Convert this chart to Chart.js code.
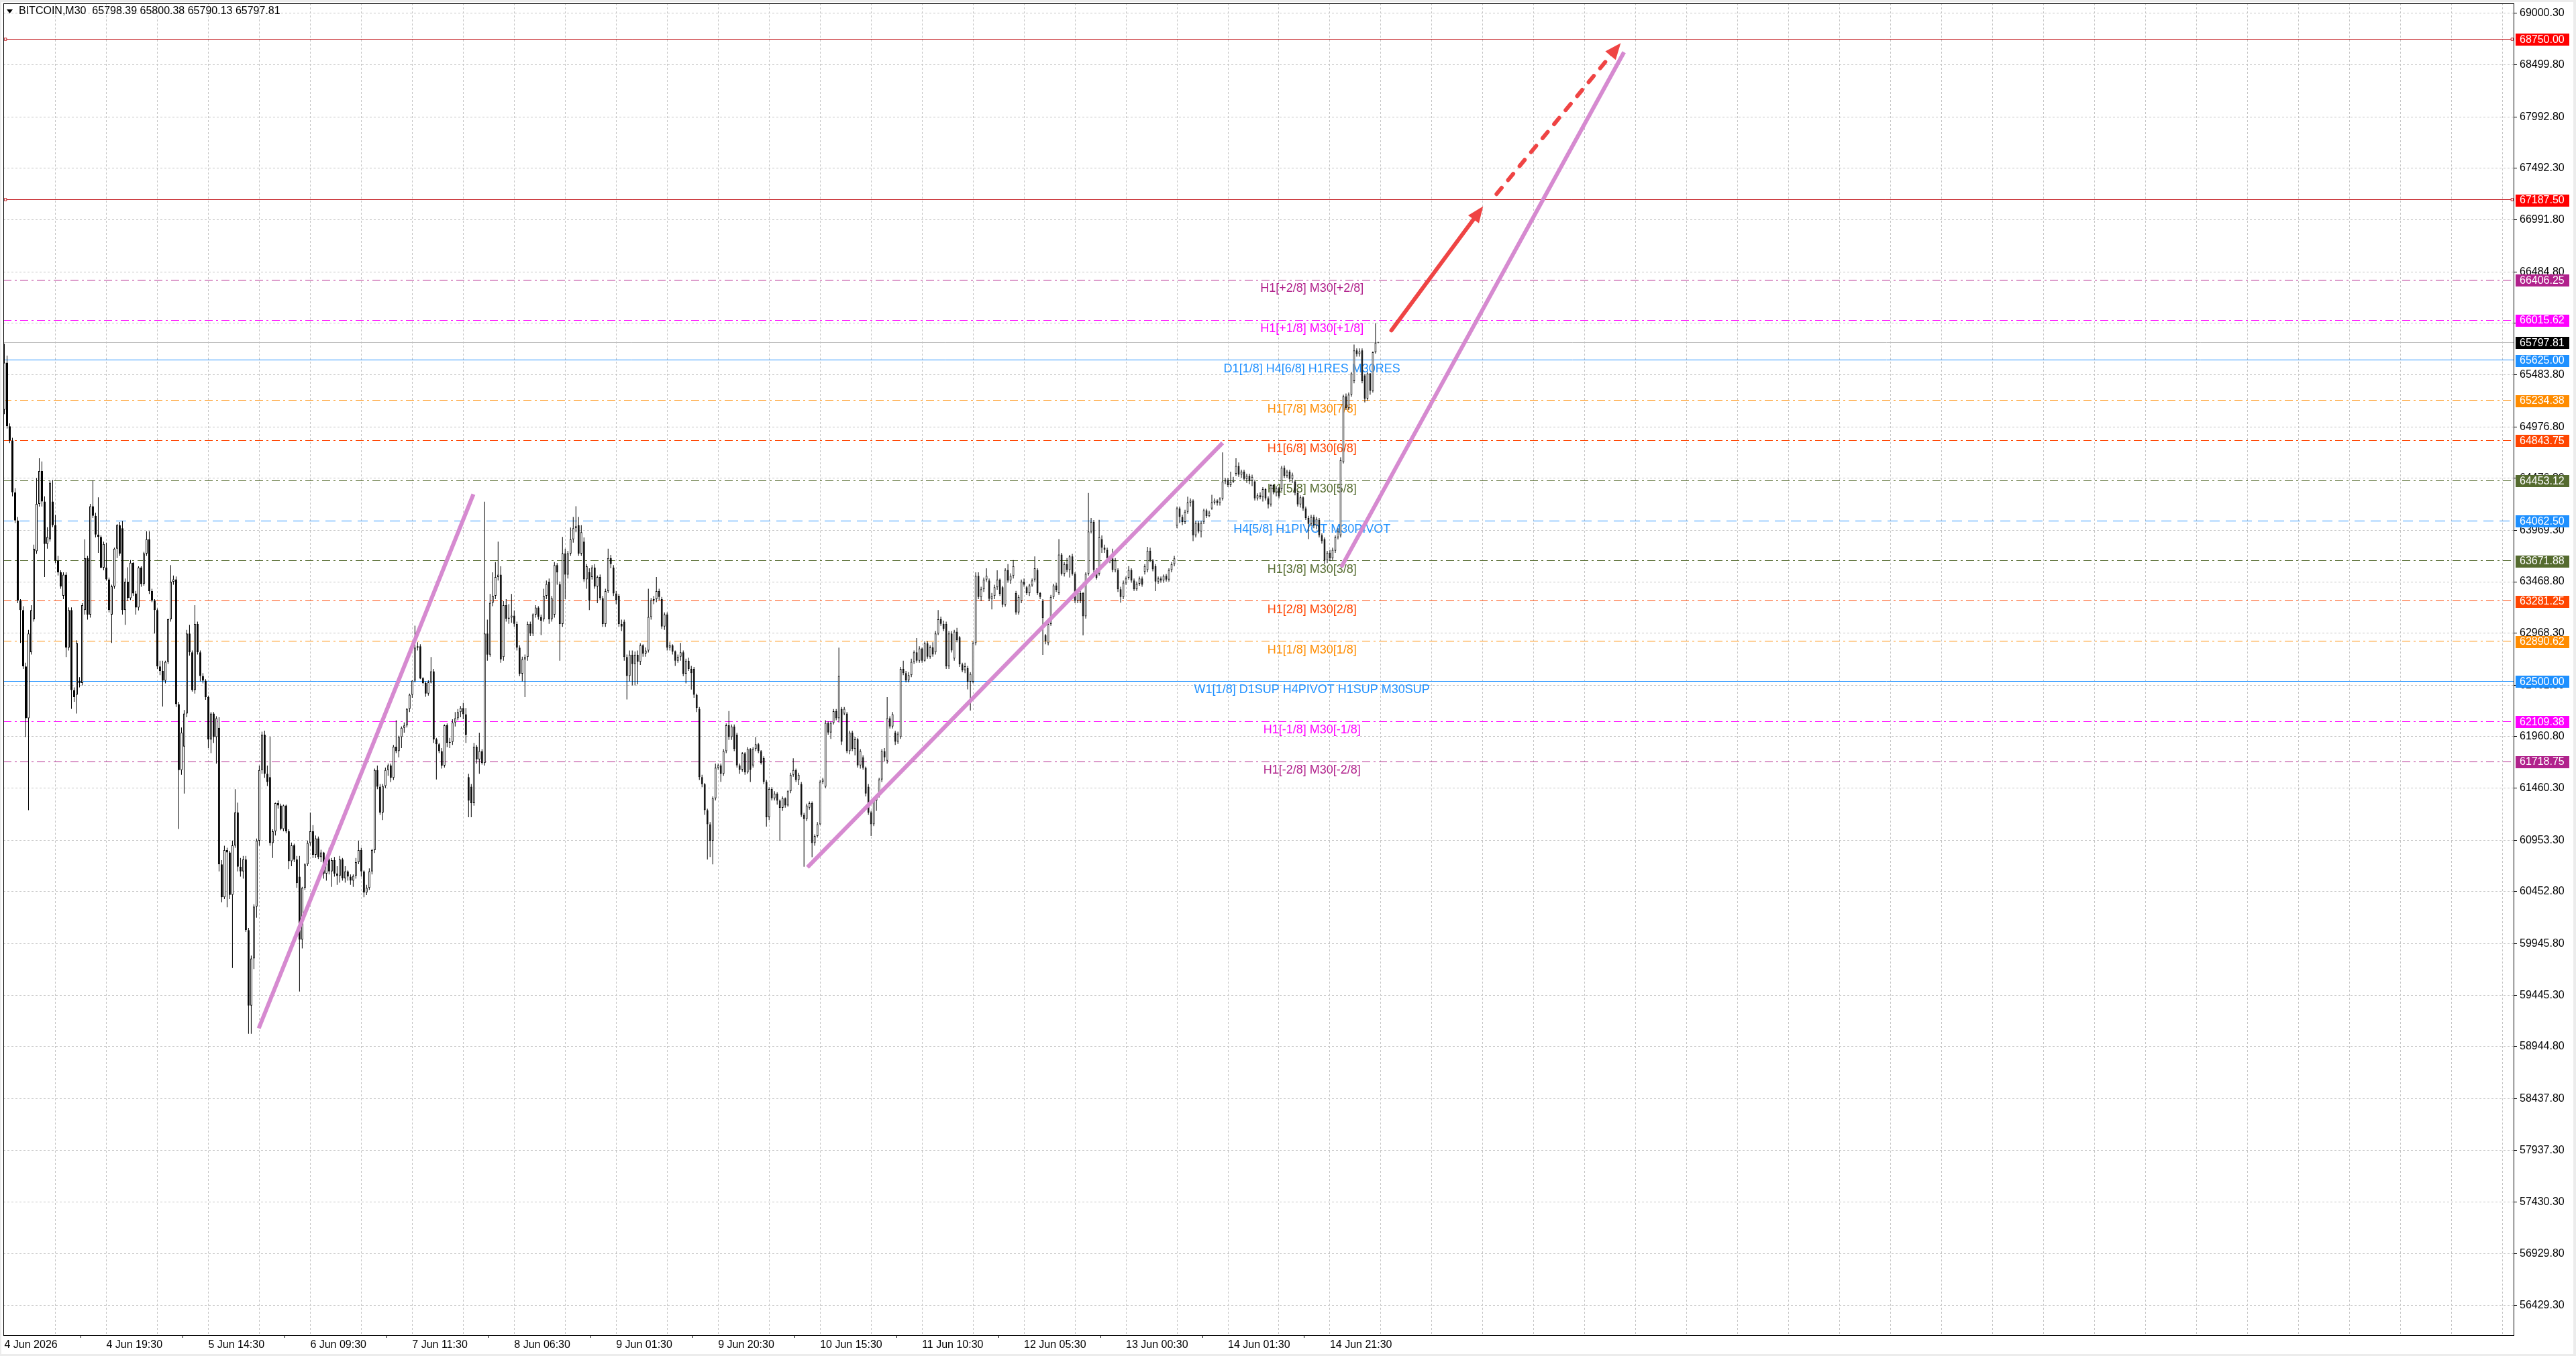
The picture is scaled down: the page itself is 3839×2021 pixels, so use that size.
<!DOCTYPE html>
<html><head><meta charset="utf-8">
<script src="https://cdn.jsdelivr.net/npm/chart.js@4.4.1/dist/chart.umd.min.js"></script>
<style>html,body{margin:0;padding:0;background:#fff;overflow:hidden}canvas{display:block}</style>
</head><body>
<canvas id="c" width="3839" height="2021"></canvas>
<script>
// ---------------- DATA ----------------
const symbolName = 'BITCOIN,M30';
const open = [
65142,65601,64982,64844,64340,64065,63286,63194,62644,62140,
62782,63103,63767,64226,64546,64249,63836,63882,64249,64019,
63676,63561,63332,63538,62828,63194,62415,62369,62506,62483,
63194,63699,63149,64203,64111,63928,63905,63607,63607,63492,
63149,63424,63790,64019,63990,63194,63469,63309,63653,63355,
63217,63607,63446,63744,63882,63378,63286,63194,62644,62600,
62506,62689,63103,63469,63492,62277,61636,61865,62186,62965,
62782,62415,63057,62782,62552,62506,62346,61934,62186,61957,
62048,60719,60398,60857,60834,60421,60903,61223,60696,60650,
60765,60078,59344,59802,60307,60948,61636,61980,61600,61567,
60925,61040,61315,61292,61063,61292,61040,60750,60903,60765,
60600,59986,60490,60719,60925,61040,60811,60971,60788,60834,
60628,60765,60650,60760,60628,60605,60765,60582,60650,60600,
60560,60605,60740,60857,60650,60444,60490,60650,60857,61636,
61475,61223,61480,61636,61682,61560,61865,61820,61957,62048,
62070,62231,62369,62506,62828,62840,62529,62483,62380,62490,
62598,61934,61888,61820,61680,62071,61900,61910,62100,62140,
62200,62240,62180,61567,61475,61315,61865,61740,61820,61705,
62965,62759,63263,63332,63515,63538,62736,63240,63110,63120,
63140,63057,62828,62575,62713,62736,63057,62965,63149,63217,
63126,63103,63332,63469,63103,63150,63630,63446,63057,63744,
63538,63744,63882,63990,64019,63744,63859,63492,63561,63515,
63607,63424,63515,63309,63057,63378,63699,63607,63355,63332,
63057,63080,62736,62552,62759,62667,62759,62690,62851,62770,
62800,63126,63286,63300,63378,63300,63034,63149,62828,62851,
62790,62700,62740,62782,62575,62700,62620,62621,62369,62231,
61567,61498,61246,61109,60948,61361,61659,61681,61600,61820,
62071,61957,62060,61980,61681,61640,61797,61613,61842,61681,
61842,61888,61820,61751,61521,61177,61452,61361,61407,61338,
61269,61361,61292,61430,61590,61636,61540,61498,61200,61160,
61270,61315,60925,60994,61109,61521,61475,62094,62002,62094,
62209,62140,62231,62186,62186,61820,62002,61842,61934,61681,
61760,61659,61475,61223,61109,61338,61384,61544,61820,61728,
62140,62060,62002,61911,61957,62621,62580,62510,62560,62689,
62782,62700,62820,62700,62870,62740,62830,62782,62965,63103,
63060,63057,62644,62965,62721,62983,62927,62665,62608,62627,
62496,62496,62871,63527,63321,63396,63490,63480,63302,63330,
63415,63490,63415,63246,63584,63480,63527,63358,63171,63283,
63471,63415,63358,63433,63490,63584,63358,63283,62946,62871,
63058,63321,63433,63358,63734,63546,63640,63584,63715,63546,
63283,63358,63358,63133,63546,63958,64052,63584,63546,63883,
63800,63780,63696,63696,63584,63584,63396,63321,63460,63508,
63584,63480,63396,63450,63500,63565,63584,63771,63677,63621,
63471,63500,63480,63527,63490,63584,63640,64015,64183,64100,
64050,64150,64240,64258,63921,64040,63958,64052,64165,64108,
64183,64240,64258,64235,64277,64446,64460,64409,64440,64521,
64596,64510,64540,64470,64500,64450,64446,64280,64310,64290,
64370,64280,64221,64409,64340,64380,64371,64577,64500,64540,
64470,64446,64333,64221,64290,64183,64090,64033,64100,64015,
64071,63921,63883,63677,63752,63696,63771,63902,63921,64633,
65271,65159,65290,65421,65721,65684,65721,65477,65252,65496,
65327,65702,65798.39];
const high = [
65784,65670,65010,64870,64380,64100,63300,63230,62680,63000,
63240,63830,64478,64670,64640,64300,64000,64455,64460,64120,
63720,63580,63560,63560,63220,63220,62440,62900,62540,63260,
63882,63720,64226,64455,64140,64290,63920,63860,63850,63510,
63440,63800,64030,64050,64060,63500,63610,63680,63660,63380,
63620,63620,63760,63960,63960,63400,63300,63210,62700,62700,
62700,63110,63630,63530,63520,62300,62050,62220,63000,63050,
62800,63240,63080,62800,62580,62520,62360,62200,62200,62160,
62150,60760,60900,60880,60850,60950,61450,61320,60780,60800,
60800,60100,59830,60330,60970,61680,62010,62020,61680,61960,
61060,61320,61340,61310,61300,61300,61060,60930,60920,60800,
60800,60500,60730,60950,61223,61100,61000,60990,60860,60840,
60780,60880,60780,60790,60700,60800,60780,60700,60660,60620,
60620,60780,60948,60880,60660,60520,60680,60870,61650,61680,
61500,61500,61660,61700,61700,61880,62120,61970,62060,62100,
62240,62380,62510,63042,62880,62860,62540,62500,62510,62736,
62620,61950,61900,61850,62080,62090,61950,62130,62200,62230,
62260,62290,62240,61600,61500,61900,61880,62000,61840,64248,
63100,63350,63560,63660,63860,63620,63280,63300,63250,63350,
63190,63080,62850,62740,62760,63080,63080,63160,63240,63230,
63150,63400,63480,63500,63330,63660,63650,63470,63905,63790,
63770,63996,64100,64203,64100,64020,63900,63640,63600,63630,
63640,63530,63540,63330,63400,63790,63730,63630,63380,63350,
63100,63100,62760,62800,62800,62790,62800,62870,62860,62830,
63400,63310,63330,63515,63400,63320,63170,63170,62880,62860,
62800,62760,62874,62800,62720,62730,62650,62640,62380,62250,
61590,61510,61260,61130,61380,61700,61700,61700,61840,62090,
62210,62080,62080,62000,61700,61810,61810,61860,61850,61860,
61957,61900,61830,61770,61540,61470,61470,61430,61420,61350,
61380,61370,61440,61610,61750,61650,61610,61520,61220,61310,
61330,61330,61010,61130,61540,61560,62120,62110,62110,62230,
62230,62828,62250,62250,62200,62020,62020,61960,61950,61840,
61780,61670,61500,61240,61360,61400,61560,61840,61850,62346,
62160,62200,62020,62010,62640,62700,62600,62590,62720,62800,
62920,62840,62830,62890,62890,62850,62880,62990,63194,63130,
63090,63080,62990,62990,63000,63020,62940,62680,62680,62650,
62590,62890,63560,63560,63420,63510,63600,63500,63360,63440,
63580,63500,63430,63600,63640,63550,63680,63380,63340,63490,
63500,63430,63450,63500,63715,63600,63370,63300,62960,63080,
63340,63450,63460,63883,63750,63660,63700,63730,63740,63560,
63380,63380,63370,63560,64333,64090,64070,63600,64071,63920,
63830,63800,63720,63790,63700,63600,63420,63480,63520,63621,
63600,63500,63470,63520,63520,63640,63808,63800,63690,63640,
63520,63520,63540,63545,63600,63660,63720,64200,64200,64120,
64170,64296,64280,64270,64060,64060,64060,64180,64180,64160,
64315,64280,64270,64290,64727,64480,64480,64540,64490,64671,
64630,64560,64560,64520,64520,64510,64460,64330,64340,64390,
64380,64300,64420,64420,64400,64390,64596,64600,64560,64560,
64530,64460,64350,64310,64300,64200,64110,64120,64120,64100,
64090,63940,63900,63770,63780,63800,63920,63990,64680,65290,
65300,65310,65510,65777,65740,65740,65740,65490,65510,65500,
65710,65985,65800.38];
const low = [
65100,64960,64820,64300,64040,63260,62874,62620,61957,61246,
62760,63080,63740,64200,64200,63515,63790,63860,64000,63650,
63530,63400,63300,62736,62800,62231,62300,62186,62440,62460,
63150,63100,63120,64090,63900,63750,63600,63580,63480,63170,
62874,63400,63700,63720,63150,63050,63280,63290,63330,63150,
63190,63420,63430,63720,63350,63270,62965,62620,62560,62254,
62480,62670,63080,63440,62250,61063,61590,61407,62150,62750,
62400,62380,62760,62500,62480,62320,61850,61800,61900,61700,
60650,60350,60380,60300,60380,59710,60880,60650,60600,60580,
60060,59069,59069,59700,60200,60900,61600,61560,61480,60900,
60780,61000,61260,61050,61040,61020,60673,60700,60740,60490,
59481,59900,60470,60700,60900,60780,60780,60770,60740,60580,
60560,60620,60500,60600,60520,60540,60560,60540,60560,60520,
60500,60580,60720,60600,60398,60420,60470,60620,60830,61450,
61200,61150,61460,61580,61520,61540,61800,61760,61850,62000,
62050,62200,62340,62490,62800,62520,62470,62350,62360,62480,
61900,61544,61800,61650,61660,61860,61850,61880,62060,62120,
62150,62130,61900,61177,61177,61290,61700,61600,61690,61680,
62700,62740,63230,63300,63480,62680,62700,63080,63060,63070,
63030,62800,62550,62500,62346,62700,62940,62940,63120,63100,
62950,63080,63300,63060,63080,63120,63440,62700,63030,63300,
63500,63720,63850,63950,63720,63720,63470,63400,63194,63490,
63400,63260,63290,63030,63030,63360,63600,63330,63250,63030,
62990,62700,62323,62500,62460,62460,62470,62660,62740,62740,
62780,63100,63250,63270,63290,63010,63000,62800,62800,62760,
62650,62680,62700,62550,62480,62600,62420,62340,62200,61540,
61470,61200,60765,60790,60719,61340,61640,61521,61580,61800,
61930,61930,61820,61660,61600,61620,61590,61600,61520,61660,
61820,61800,61690,61500,61086,61150,61340,61340,61300,60948,
61240,61270,61280,61410,61570,61520,61490,61180,60696,61140,
61250,60788,60900,60980,61100,61500,61460,61980,61940,62080,
62120,62100,61880,62170,61800,61790,61820,61780,61660,61650,
61640,61380,61200,60994,61090,61240,61370,61520,61720,61700,
62040,62040,61880,61890,61940,62560,62490,62490,62540,62670,
62680,62680,62680,62690,62720,62720,62740,62760,62950,63040,
62990,62620,62620,62780,62700,62880,62640,62590,62580,62421,
62215,62480,62850,63300,63280,63370,63470,63280,63200,63300,
63390,63330,63220,63227,63460,63450,63500,63150,63150,63260,
63420,63340,63330,63420,63470,63340,63300,62758,62860,62850,
63040,63300,63370,63340,63530,63520,63560,63510,63530,63260,
63260,63260,62946,63110,63530,63940,63560,63490,63530,63750,
63750,63680,63650,63560,63560,63370,63265,63300,63440,63490,
63460,63380,63380,63430,63420,63540,63560,63660,63570,63377,
63450,63460,63460,63470,63470,63560,63620,63990,64040,64020,
64030,64130,64200,63865,63900,63940,63900,64030,64090,64100,
64170,64220,64210,64210,64260,64420,64390,64390,64430,64500,
64490,64480,64450,64430,64420,64400,64260,64260,64270,64250,
64260,64183,64200,64320,64300,64280,64350,64480,64480,64440,
64430,64310,64200,64190,64160,64070,63883,64010,63990,63980,
63900,63840,63640,63650,63670,63680,63750,63880,63900,64620,
65140,65140,65270,65400,65660,65660,65400,65215,65230,65290,
65310,65690,65790.13];
const close = [
65601,64982,64844,64340,64065,63286,63194,62644,62140,62965,
63194,63790,64226,64546,64249,63836,63905,64432,64019,63676,
63561,63424,63538,62828,63194,62415,62346,62874,62483,63240,
63699,63149,64203,64111,63928,63905,63607,63836,63492,63194,
63424,63790,64019,63744,63194,63469,63309,63653,63355,63217,
63607,63446,63744,63882,63378,63286,63194,62644,62600,62506,
62689,63103,63469,63492,62277,61636,62002,62186,62965,62782,
62415,63057,62782,62552,62506,62346,61934,62186,61957,62140,
60719,60398,60857,60834,60421,60903,61223,60696,60650,60765,
60078,59344,59802,60307,60948,61636,61980,61600,61520,60925,
61040,61315,61292,61063,61292,61040,60750,60903,60765,60536,
59986,60490,60719,60925,61040,60811,60971,60788,60834,60628,
60765,60650,60760,60628,60605,60765,60582,60650,60600,60560,
60605,60740,60857,60650,60444,60490,60650,60857,61636,61475,
61223,61480,61636,61682,61560,61865,61820,61957,62048,62070,
62231,62369,62506,62828,62840,62529,62483,62380,62490,62598,
61934,61888,61820,61680,62071,61900,61910,62100,62140,62200,
62240,62180,61980,61338,61315,61865,61740,61820,61705,62965,
62759,63263,63332,63515,63538,62713,63240,63110,63120,63140,
63060,62828,62575,62713,62736,63057,62965,63149,63217,63126,
63090,63332,63446,63103,63309,63630,63561,63057,63744,63538,
63744,63882,63990,64010,63744,63950,63492,63620,63286,63607,
63424,63515,63309,63057,63378,63699,63640,63355,63290,63057,
63034,62736,62552,62759,62667,62759,62690,62851,62770,62800,
63126,63286,63300,63378,63320,63034,63149,62828,62851,62790,
62700,62740,62782,62575,62700,62620,62580,62369,62240,61567,
61498,61246,61109,60948,61361,61659,61681,61600,61820,62071,
61957,62060,61842,61681,61640,61797,61613,61842,61640,61842,
61888,61820,61705,61521,61177,61452,61361,61407,61338,61269,
61361,61292,61430,61590,61636,61540,61590,61200,61160,61292,
61315,60925,60994,61109,61521,61544,62094,62002,62094,62209,
62140,62552,61911,62231,61820,62002,61842,61934,61681,61820,
61659,61407,61223,61109,61338,61384,61544,61820,61760,62140,
62060,62180,61911,61990,62621,62580,62510,62560,62689,62782,
62700,62820,62700,62870,62740,62830,62760,62965,63103,63060,
63011,62644,62965,62800,62983,62900,62665,62608,62646,62496,
62571,62871,63527,63321,63396,63490,63527,63302,63330,63415,
63490,63350,63246,63584,63480,63527,63621,63171,63321,63471,
63440,63358,63433,63480,63600,63358,63321,63115,62889,63058,
63321,63433,63390,63734,63546,63640,63584,63715,63546,63283,
63358,63283,63133,63546,63958,64052,63584,63508,63902,63800,
63780,63696,63677,63584,63677,63396,63321,63460,63500,63584,
63480,63396,63450,63500,63440,63621,63771,63677,63590,63471,
63500,63480,63527,63490,63584,63640,63696,64183,64100,64050,
64150,64240,64258,63921,64040,63958,64040,64165,64108,64140,
64240,64258,64235,64277,64446,64460,64409,64440,64460,64596,
64510,64540,64470,64500,64450,64490,64280,64310,64290,64370,
64280,64221,64409,64340,64380,64300,64577,64500,64540,64470,
64510,64333,64221,64290,64183,64090,64033,64100,64015,64080,
63921,63865,63677,63752,63696,63780,63902,63958,64652,65271,
65159,65290,65496,65721,65684,65710,65421,65252,65496,65327,
65702,65796,65797.81];

// time axis labels (one every 38 bars)
const xTickLabels = ['4 Jun 2026','4 Jun 19:30','5 Jun 14:30','6 Jun 09:30','7 Jun 11:30','8 Jun 06:30',
  '9 Jun 01:30','9 Jun 20:30','10 Jun 15:30','11 Jun 10:30','12 Jun 05:30','13 Jun 00:30','14 Jun 01:30','14 Jun 21:30'];
// price axis tick values
const yTickValues = [69000.30,68499.80,67992.80,67492.30,66991.80,66484.80,65983.30,65483.80,64976.80,64476.80,
  63969.30,63468.80,62968.30,62461.80,61960.80,61460.30,60953.30,60452.80,59945.80,59445.30,58944.80,58437.80,
  57937.30,57430.30,56929.80,56429.30];
// Murrey-math style levels
const levelValues = [66406.25,66015.62,65625.00,65234.38,64843.75,64453.12,64062.50,63671.88,63281.25,62890.62,62500.00,62109.38,61718.75];
const levelTexts = ['H1[+2/8] M30[+2/8]','H1[+1/8] M30[+1/8]','D1[1/8] H4[6/8] H1RES M30RES','H1[7/8] M30[7/8]',
  'H1[6/8] M30[6/8]','H1[5/8] M30[5/8]','H4[5/8] H1PIVOT M30PIVOT','H1[3/8] M30[3/8]','H1[2/8] M30[2/8]',
  'H1[1/8] M30[1/8]','W1[1/8] D1SUP H4PIVOT H1SUP M30SUP','H1[-1/8] M30[-1/8]','H1[-2/8] M30[-2/8]'];
const levelLabelBar = 487.3;
// red target lines
const redLevels = [68750.00, 67187.50];
const redLineFromBar = 0.4, redLineToBar = 934.6;
// trend lines (bar index, price)
const trendStartBar = [94.8, 299.3, 498.2];
const trendStartPrice = [59123, 60690, 63610];
const trendEndBar = [174.8, 454.0, 603.6];
const trendEndPrice = [64320, 64820, 68623];
// projection arrows
const arrowStartBar = [516.9, 556.1];
const arrowStartPrice = [65915, 67242];
const arrowEndBar = [549.9, 601.1];
const arrowEndPrice = [67080, 68670];

// ---------------- STYLES ----------------
const FONT = "'Liberation Sans', Arial, Helvetica, sans-serif";
const W = 3839, H = 2021;
const X_MIN = -0.375, X_MAX = 935.375, Y_MIN = 56136.1, Y_MAX = 69097.9;
const levelColors = ['#b1228c','#ff00ff','#1e90ff','#ff8c00','#ff4500','#556b2f','#1e90ff','#556b2f','#ff4500','#ff8c00','#1e90ff','#ff00ff','#b1228c'];
const levelDashKind = ['dd','dd','solid','dd','dd','dd','dash','dd','dd','dd','solid','dd','dd'];
const DASHES = {dd:[12,5,3,5], dash:[15,9], solid:[]};
const TREND_COLOR = '#d68ad0';
const ARROW_COLOR = '#ef4444';
const RED_LINE = '#c41e24';
const GRID = '#c4c4c4';

Chart.defaults.font.family = FONT;
Chart.defaults.font.size = 16;
Chart.defaults.color = '#000';

const N = close.length;
const wickData = close.map((c, i) => ({x: i, y: [low[i], high[i]]}));
const bodyData = close.map((c, i) => ({x: i, y: [open[i], close[i]]}));

const datasets = [];
levelValues.forEach((v, i) => {
  datasets.push({type: 'line', snapY: v, data: [{x: X_MIN, y: v}, {x: X_MAX, y: v}], borderColor: levelColors[i],
    borderWidth: 1, borderDash: DASHES[levelDashKind[i]], pointRadius: 0, order: 30});
});
redLevels.forEach(v => {
  datasets.push({type: 'line', snapY: v, data: [{x: redLineFromBar, y: v}, {x: redLineToBar, y: v}], borderColor: RED_LINE,
    borderWidth: 1, pointStyle: 'rect', pointRadius: 2.5, pointBackgroundColor: '#fff', pointBorderColor: RED_LINE,
    pointBorderWidth: 1, order: 30});
});
datasets.push({type: 'line', snapY: close[N-1], data: [{x: X_MIN, y: close[N-1]}, {x: X_MAX, y: close[N-1]}], borderColor: '#c0c0c0',
  borderWidth: 1, pointRadius: 0, order: 29});
datasets.push({type: 'bar', data: wickData, backgroundColor: '#000', borderWidth: 0, barThickness: 1,
  grouped: false, inflateAmount: 0, order: 11});
datasets.push({type: 'bar', data: bodyData,
  backgroundColor: c => (close[c.dataIndex] >= open[c.dataIndex] ? '#ffffff' : '#000000'),
  borderColor: '#000', borderWidth: 1, borderSkipped: false, barThickness: 3, minBarLength: 1,
  grouped: false, inflateAmount: 0, order: 10});
trendStartBar.forEach((b, i) => {
  datasets.push({type: 'line', data: [{x: b, y: trendStartPrice[i]}, {x: trendEndBar[i], y: trendEndPrice[i]}],
    borderColor: TREND_COLOR, borderWidth: 6, pointRadius: 0, borderCapStyle: 'butt', order: 2});
});
arrowStartBar.forEach((b, i) => {
  datasets.push({type: 'line', data: [{x: b, y: arrowStartPrice[i]}, {x: arrowEndBar[i], y: arrowEndPrice[i]}],
    borderColor: ARROW_COLOR, borderWidth: 6, pointRadius: 0, borderCapStyle: 'round',
    borderDash: i === 1 ? [12, 15] : [], order: 1});
});

function xLabel(v) {
  const k = v / 38;
  return (Number.isInteger(k) && k >= 0 && k < xTickLabels.length) ? xTickLabels[k] : '';
}
const xGridBars = [];
for (let b = 0; b <= X_MAX; b += 19) xGridBars.push(b);

const decor = {
  id: 'decor',
  beforeDraw(chart) {
    const c = chart.ctx;
    c.save();
    c.fillStyle = '#ffffff'; c.fillRect(0, 0, W, H);
    c.fillStyle = '#ececec';
    c.fillRect(0, 0, W, 3); c.fillRect(0, 0, 2, H); c.fillRect(W - 4, 0, 4, H); c.fillRect(0, H - 3, W, 3);
    c.restore();
  },
  beforeDatasetsDraw(chart) {
    const c = chart.ctx, a = chart.chartArea, xs = chart.scales.x, ys = chart.scales.y;
    c.save();
    c.strokeStyle = GRID; c.lineWidth = 1; c.setLineDash([3, 3]);
    xGridBars.forEach(b => {
      if (b === 0) return;
      const x = Math.round(xs.getPixelForValue(b) - 0.5) + 0.5;
      c.beginPath(); c.moveTo(x, a.top); c.lineTo(x, a.bottom); c.stroke();
    });
    yTickValues.forEach(v => {
      const y = Math.round(ys.getPixelForValue(v) - 0.5) + 0.5;
      c.beginPath(); c.moveTo(a.left, y); c.lineTo(a.right, y); c.stroke();
    });
    c.setLineDash([]);
    // level captions
    c.font = '18px ' + FONT; c.textAlign = 'center'; c.textBaseline = 'alphabetic';
    const lx = xs.getPixelForValue(levelLabelBar);
    levelValues.forEach((v, i) => {
      c.fillStyle = levelColors[i];
      c.fillText(levelTexts[i], lx, ys.getPixelForValue(v) + 18);
    });
    c.restore();
  },
  // keep 1px horizontal lines crisp: shift by the sub-pixel remainder only
  beforeDatasetDraw(chart, args) {
    const ds = chart.data.datasets[args.index];
    if (ds.snapY === undefined) return;
    const y = chart.scales.y.getPixelForValue(ds.snapY);
    chart.ctx.save();
    chart.ctx.translate(0, Math.round(y - 0.5) + 0.5 - y);
  },
  afterDatasetDraw(chart, args) {
    const ds = chart.data.datasets[args.index];
    if (ds.snapY === undefined) return;
    chart.ctx.restore();
  },
  afterDatasetsDraw(chart) {
    const c = chart.ctx, a = chart.chartArea, xs = chart.scales.x, ys = chart.scales.y;
    c.save();
    // arrow heads
    c.fillStyle = ARROW_COLOR;
    arrowStartBar.forEach((b, i) => {
      const x1 = xs.getPixelForValue(b), y1 = ys.getPixelForValue(arrowStartPrice[i]);
      const x2 = xs.getPixelForValue(arrowEndBar[i]), y2 = ys.getPixelForValue(arrowEndPrice[i]);
      const ang = Math.atan2(y2 - y1, x2 - x1), ca = Math.cos(ang), sa = Math.sin(ang);
      const tx = x2 + 8 * ca, ty = y2 + 8 * sa, L = 24, HW = 10;
      const bx = tx - L * ca, by = ty - L * sa;
      c.beginPath(); c.moveTo(tx, ty);
      c.lineTo(bx - HW * sa, by + HW * ca); c.lineTo(bx + HW * sa, by - HW * ca); c.closePath(); c.fill();
    });
    // frame
    c.strokeStyle = '#000'; c.lineWidth = 1;
    c.strokeRect(a.left + 0.5, a.top + 0.5, a.right - a.left - 1, a.bottom - a.top);
    // header
    c.fillStyle = '#000';
    c.beginPath(); c.moveTo(10, 14); c.lineTo(19, 14); c.lineTo(14.5, 20); c.closePath(); c.fill();
    c.font = '16px ' + FONT; c.textAlign = 'left'; c.textBaseline = 'middle';
    const i = N - 1;
    c.fillText(symbolName + '  ' + open[i].toFixed(2) + ' ' + high[i].toFixed(2) + ' ' + low[i].toFixed(2) + ' ' + close[i].toFixed(2), 28, 17);
    c.restore();
  },
  afterDraw(chart) {
    const c = chart.ctx, a = chart.chartArea, ys = chart.scales.y;
    c.save();
    c.font = '16px ' + FONT; c.textAlign = 'left'; c.textBaseline = 'middle';
    const box = (v, bg) => {
      const y = ys.getPixelForValue(v) + 1;
      c.fillStyle = bg; c.fillRect(a.right + 2, Math.round(y - 9), 80, 18);
      c.fillStyle = '#fff'; c.fillText(v.toFixed(2), a.right + 8, y);
    };
    levelValues.forEach((v, i) => box(v, levelColors[i]));
    redLevels.forEach(v => box(v, '#ff0000'));
    box(close[N - 1], '#000000');
    c.restore();
  }
};

new Chart(document.getElementById('c'), {
  type: 'bar',
  data: {datasets},
  options: {
    responsive: false, animation: false, devicePixelRatio: 1, events: [],
    layout: {padding: {left: 4, top: 4, right: 0, bottom: 0}},
    plugins: {legend: {display: false}, tooltip: {enabled: false}},
    scales: {
      x: {
        type: 'linear', min: X_MIN, max: X_MAX, offset: false, bounds: 'data', position: 'bottom',
        afterBuildTicks: s => { s.ticks = xGridBars.map(v => ({value: v})); },
        ticks: {autoSkip: false, maxRotation: 0, minRotation: 0, align: 'start', padding: 1, color: '#000',
          font: {size: 16, family: FONT}, callback: v => xLabel(v)},
        grid: {drawOnChartArea: false, drawTicks: true, tickLength: 4,
          color: c => (c.tick && xLabel(c.tick.value)) ? '#000' : 'rgba(0,0,0,0)'},
        border: {display: false},
        afterFit: s => { s.height = 31; s.paddingLeft = 0; s.paddingRight = 0; s.paddingTop = 0; s.paddingBottom = 0; }
      },
      y: {
        type: 'linear', position: 'right', min: Y_MIN, max: Y_MAX, bounds: 'data',
        afterBuildTicks: s => { s.ticks = yTickValues.map(v => ({value: v})); },
        ticks: {autoSkip: false, padding: 4, color: '#000', font: {size: 16, family: FONT}, callback: v => Number(v).toFixed(2)},
        grid: {drawOnChartArea: false, drawTicks: true, tickLength: 4, color: '#000'},
        border: {display: false},
        afterFit: s => { s.width = 92; s.paddingLeft = 0; s.paddingRight = 0; s.paddingTop = 0; s.paddingBottom = 0; }
      }
    }
  },
  plugins: [decor]
});
</script>
</body></html>
